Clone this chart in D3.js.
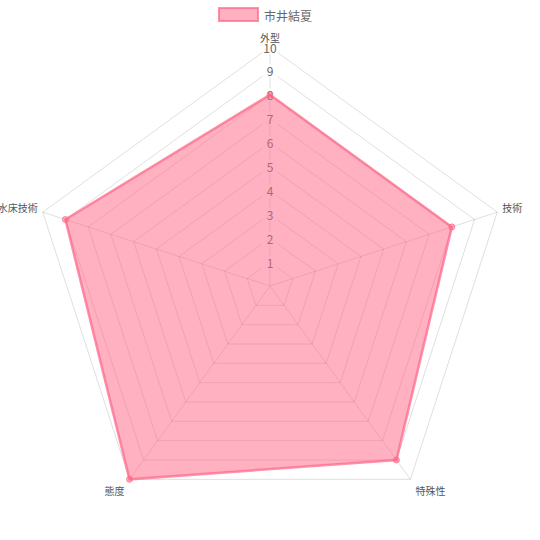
<!DOCTYPE html>
<html><head><meta charset="utf-8">
<script src="https://cdn.jsdelivr.net/npm/d3@7"></script>
<style>body{margin:0;background:#fff}svg{display:block}text{font-family:"Noto Sans CJK JP","Noto Sans",sans-serif}</style>
</head><body>
<svg id="c" width="540" height="540"></svg>
<script>
const categories = ["外型", "技術", "特殊性", "態度", "水床技術"];
const seriesName = "市井結夏";
const values = [8, 8, 9, 10, 9];
const tickValues = [1,2,3,4,5,6,7,8,9,10];

const svg = d3.select("#c");
const cx = 270, cy = 286, R = 239;
const r = d3.scaleLinear().domain([0, 10]).range([0, R]);
const ang = d3.scaleLinear().domain([0, categories.length]).range([0, 2*Math.PI]);
const pt = (i, v) => [cx + r(v)*Math.sin(ang(i)), cy - r(v)*Math.cos(ang(i))];

const grid = svg.append("g");
tickValues.forEach(t => {
  grid.append("polygon")
    .attr("points", categories.map((c,i)=>pt(i,t).join(",")).join(" "))
    .attr("fill","none").attr("stroke","rgba(0,0,0,0.13)").attr("stroke-width",1);
});
categories.forEach((c,i)=>{
  const p = pt(i,10);
  grid.append("line").attr("x1",cx).attr("y1",cy).attr("x2",p[0]).attr("y2",p[1])
    .attr("stroke","rgba(0,0,0,0.13)").attr("stroke-width",1);
});

// tick labels with backdrop
const tk = svg.append("g");
tickValues.forEach(t=>{
  const y = cy - r(t);
  tk.append("rect").attr("x",cx-8).attr("y",y-7).attr("width",16).attr("height",14)
    .attr("fill","rgba(255,255,255,0.75)");
  tk.append("text").attr("x",cx).attr("y",y).attr("text-anchor","middle")
    .attr("dominant-baseline","central").attr("font-size",12).attr("fill","#666").text(t);
});

// data polygon
svg.append("polygon")
  .attr("points", values.map((v,i)=>pt(i,v).join(",")).join(" "))
  .attr("fill","rgba(255,99,132,0.5)").attr("stroke","rgba(255,99,132,0.7)").attr("stroke-width",2.5)
  .attr("stroke-linejoin","miter");
values.forEach((v,i)=>{
  const p = pt(i,v);
  svg.append("circle").attr("cx",p[0]).attr("cy",p[1]).attr("r",3)
    .attr("fill","rgba(255,99,132,0.5)").attr("stroke","rgba(255,99,132,0.7)").attr("stroke-width",1);
});

// point labels
categories.forEach((c,i)=>{
  const p = pt(i,10);
  const a = ang(i);
  const s = Math.sin(a), co = Math.cos(a);
  let x = p[0], y = p[1], anchor = "middle";
  if (i===0) { y -= 10; }
  else if (s > 0.5) { x += 5; anchor = "start"; y -= 5; }
  else if (s < -0.5) { x -= 5; anchor = "end"; y -= 5; }
  else { y += 10; }
  if (i===2 || i===3) { y = p[1] + 11; }
  svg.append("text").attr("x",x).attr("y",y).attr("text-anchor",anchor)
    .attr("dominant-baseline","central").attr("font-size",10).attr("fill","#555").text(c);
});

// legend
const lg = svg.append("g");
lg.append("rect").attr("x",219).attr("y",8).attr("width",39).attr("height",13)
  .attr("fill","rgba(255,99,132,0.5)").attr("stroke","rgba(255,99,132,0.7)").attr("stroke-width",2);
lg.append("text").attr("x",264).attr("y",15).attr("dominant-baseline","central")
  .attr("font-size",12).attr("fill","#666").text(seriesName);
</script>
</body></html>
